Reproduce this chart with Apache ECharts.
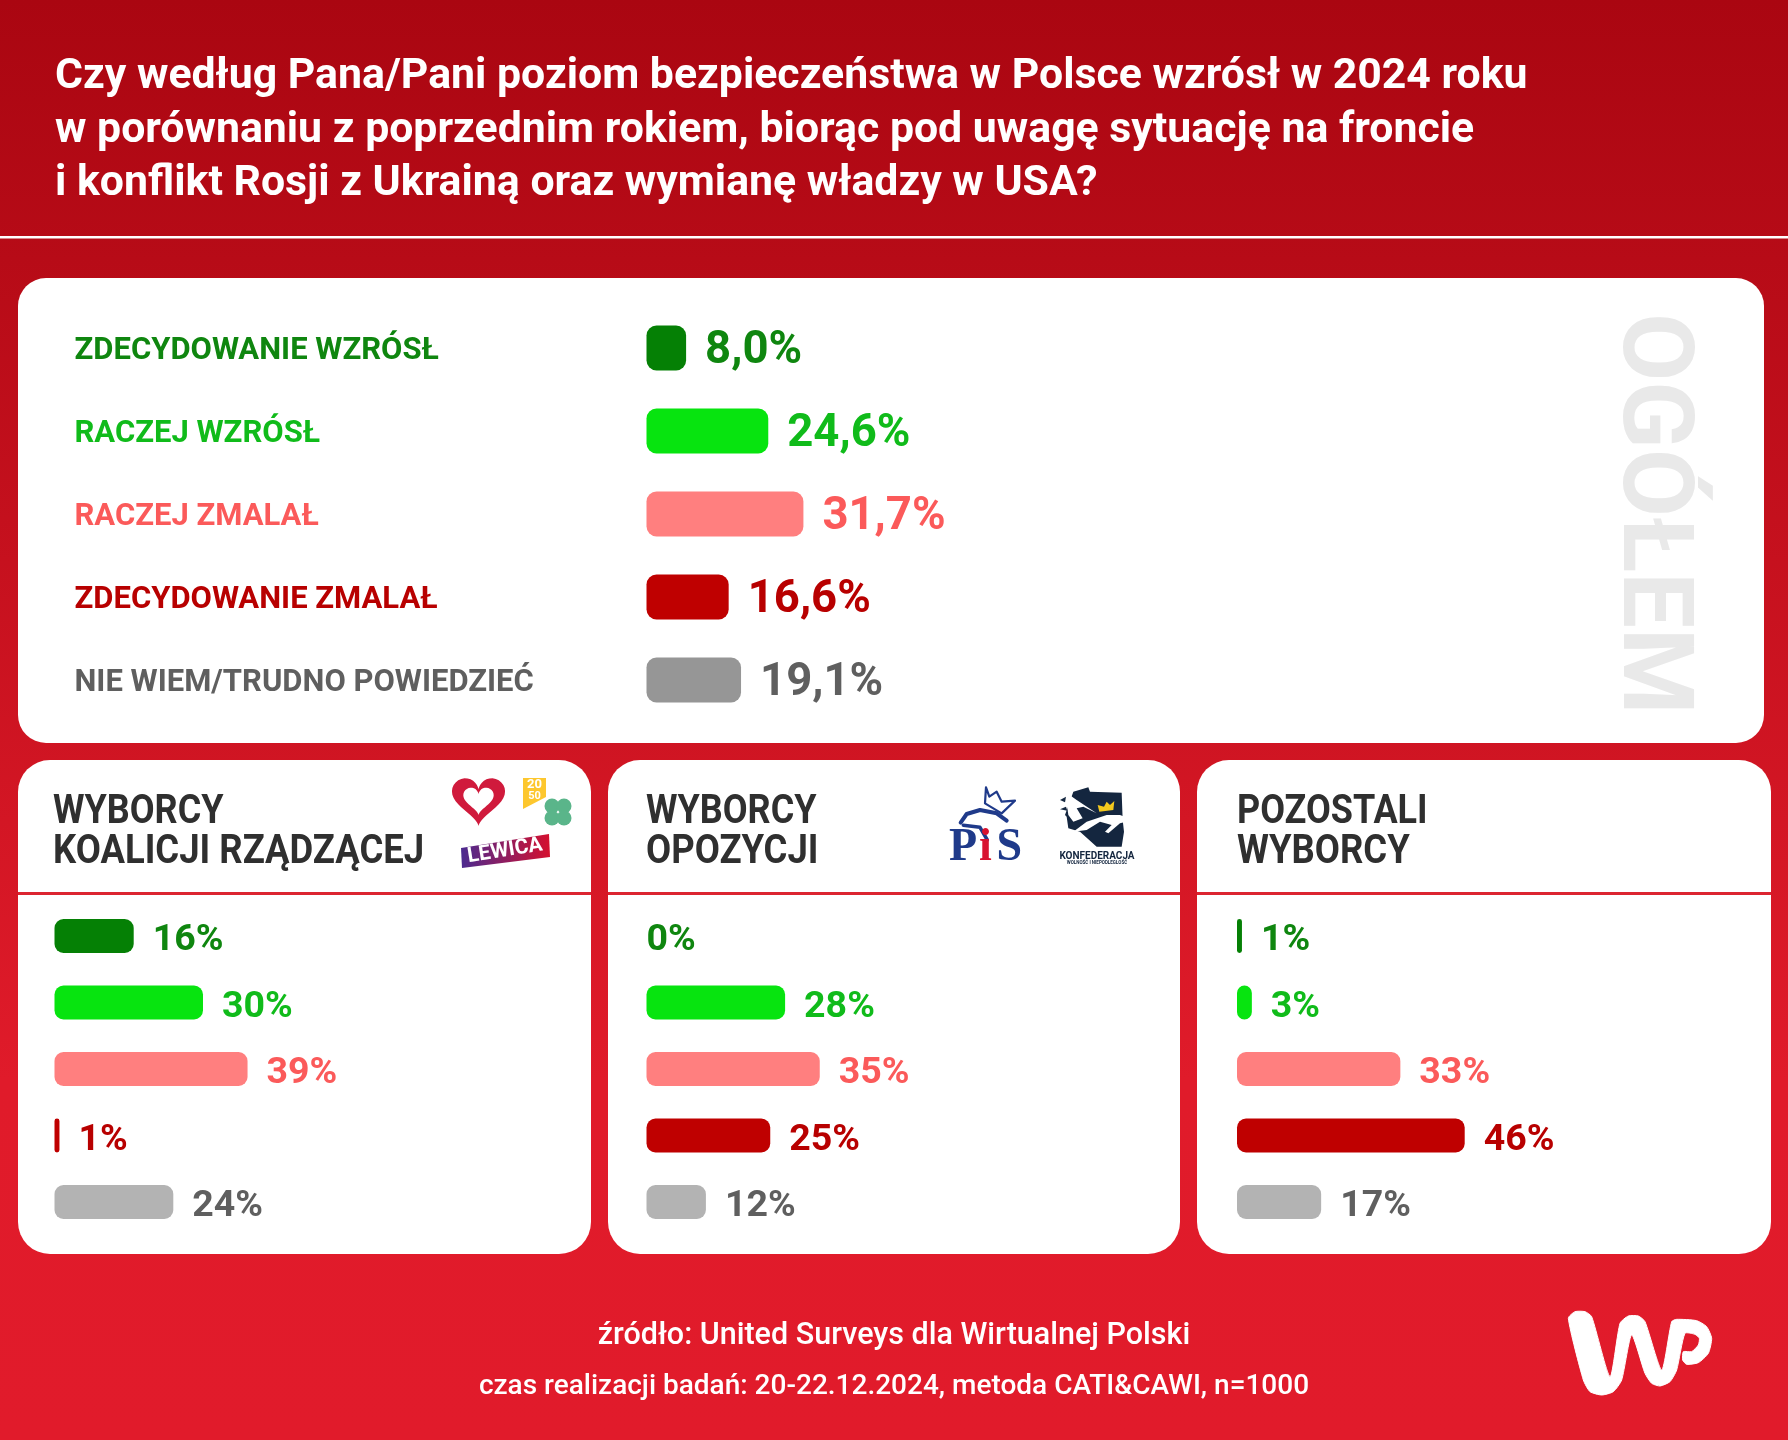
<!DOCTYPE html>
<html>
<head>
<meta charset="utf-8">
<title>Bezpieczenstwo w Polsce</title>
<script src="https://cdn.jsdelivr.net/npm/echarts@6/dist/echarts.min.js"></script>
<style>
  html, body { margin: 0; padding: 0; background: #c91320; }
  #chart { width: 1788px; height: 1440px; }
</style>
</head>
<body>
<div id="chart"></div>
<script>
var categories = ['ZDECYDOWANIE WZRÓSŁ', 'RACZEJ WZRÓSŁ', 'RACZEJ ZMALAŁ', 'ZDECYDOWANIE ZMALAŁ', 'NIE WIEM/TRUDNO POWIEDZIEĆ'];
var totalValues = [8.0, 24.6, 31.7, 16.6, 19.1];
var coalitionValues = [16, 30, 39, 1, 24];
var oppositionValues = [0, 28, 35, 25, 12];
var otherValues = [1, 3, 33, 46, 17];
var panelTitles = ['WYBORCY\nKOALICJI RZĄDZĄCEJ', 'WYBORCY\nOPOZYCJI', 'POZOSTALI\nWYBORCY'];
var heading = [
  'Czy według Pana/Pani poziom bezpieczeństwa w Polsce wzrósł w 2024 roku',
  'w porównaniu z poprzednim rokiem, biorąc pod uwagę sytuację na froncie',
  'i konflikt Rosji z Ukrainą oraz wymianę władzy w USA?'
];
var source = 'źródło: United Surveys dla Wirtualnej Polski';
var method = 'czas realizacji badań: 20-22.12.2024, metoda CATI&CAWI, n=1000';

var barColors = ['#058005', '#07e40f', '#ff7f7f', '#bf0000', '#969696'];
var smallBarColors = ['#058005', '#07e40f', '#ff7f7f', '#bf0000', '#b3b3b3'];
var textColors = ['#0f860f', '#10bb1a', '#fb5a5a', '#b80000', '#5f5f5f'];

var chart = echarts.init(document.getElementById('chart'));

// kazdy panel to osobny grid + seria slupkowa
function barSeries(idx, values, colors, fontSize, radius, barWidth, fmt, labelDy) {
  return {
    type: 'bar',
    xAxisIndex: idx,
    yAxisIndex: idx,
    barWidth: barWidth,
    z: 5,
    silent: true,
    data: values.map(function (v, i) {
      return {
        value: v,
        itemStyle: { color: colors[i], borderRadius: radius },
        label: {
          show: true,
          position: 'right',
          distance: v === 0 ? 0 : 19,
          offset: [0, labelDy],
          color: textColors[i],
          fontFamily: 'Roboto',
          fontWeight: 'bold',
          fontSize: fontSize,
          formatter: fmt
        }
      };
    })
  };
}
function fmtTotal(p) { return p.value.toFixed(1).replace('.', ',') + '%'; }
function fmtInt(p) { return p.value + '%'; }

function xAxisFor(idx) {
  return { gridIndex: idx, type: 'value', min: 0, max: 100, show: false };
}

// style etykiet kategorii, rich zeby zejsc troche w dol
var categoryRich = {};
textColors.forEach(function (c, i) {
  categoryRich['r' + i] = {
    color: c,
    fontFamily: 'Roboto',
    fontWeight: 'bold',
    fontSize: 31,
    padding: [6, 0, 0, 0]
  };
});
function yAxisFor(idx, withLabels) {
  return {
    gridIndex: idx,
    type: 'category',
    inverse: true,
    z: 4,
    data: categories,
    axisLine: { show: false },
    axisTick: { show: false },
    axisLabel: withLabels ? {
      show: true,
      align: 'left',
      margin: 572,
      rich: categoryRich,
      formatter: function (v, i) { return '{r' + i + '|' + v + '}'; }
    } : { show: false }
  };
}

// logo elementy
function heartPoints(cx, cy, s) {
  var pts = [];
  for (var a = 0; a < 60; a++) {
    var t = a / 60 * Math.PI * 2;
    var x = 16 * Math.pow(Math.sin(t), 3);
    var y = 13 * Math.cos(t) - 5 * Math.cos(2 * t) - 2 * Math.cos(3 * t) - Math.cos(4 * t);
    pts.push([cx + x * s, cy - y * s]);
  }
  return pts;
}
function card(x, y, w, h, r) {
  return { type: 'rect', z: 1, shape: { x: x, y: y, width: w, height: h, r: r }, style: { fill: '#fff' } };
}
function label(text, x, y, font, fill, extra) {
  var el = {
    type: 'text', z: 6, x: x, y: y,
    style: { text: text, font: font, fill: fill, textAlign: 'left', textVerticalAlign: 'middle' }
  };
  if (extra) {
    for (var k in extra) {
      if (k === 'textAlign') el.style.textAlign = extra[k];
      else el[k] = extra[k];
    }
  }
  return el;
}
function stroke(points, width, color) {
  return { type: 'polyline', z: 6, shape: { points: points }, style: { stroke: color, lineWidth: width, fill: null, lineCap: 'round', lineJoin: 'round' } };
}
function poly(points, fill) {
  return { type: 'polygon', z: 6, shape: { points: points }, style: { fill: fill } };
}
function fromZoom(ox, oy, pts) {
  return pts.map(function (p) { return [ox + p[0] / 3, oy + p[1] / 3]; });
}

var panelFont = 'bold 40px Roboto';
var elements = [
  { type: 'rect', z: 1, shape: { x: 0, y: 236, width: 1788, height: 2.5 }, style: { fill: '#fff' } },
  card(18, 278, 1746, 465, 28),
  card(18, 760, 573, 494, 32),
  card(608, 760, 572, 494, 32),
  card(1197, 760, 574, 494, 32),
  { type: 'rect', z: 2, shape: { x: 18, y: 892, width: 573, height: 3 }, style: { fill: '#dc2531' } },
  { type: 'rect', z: 2, shape: { x: 608, y: 892, width: 572, height: 3 }, style: { fill: '#dc2531' } },
  { type: 'rect', z: 2, shape: { x: 1197, y: 892, width: 574, height: 3 }, style: { fill: '#dc2531' } },
  label('OGÓŁEM', 1649, 313, 'bold 99px Roboto', '#e9e9e9', { rotation: -Math.PI / 2 })
];

// naglowki paneli
var panelX = [53, 646, 1237];
panelTitles.forEach(function (t, i) {
  var lines = t.split('\n');
  elements.push(label(lines[0], panelX[i], 813, panelFont, '#2f2f2f', { scaleX: 0.9 }));
  elements.push(label(lines[1], panelX[i], 853, panelFont, '#2f2f2f', { scaleX: 0.912 }));
});

// serce KO, 2050, PSL, Lewica
elements.push(poly(heartPoints(478.5, 798, 1.66), '#d01a3c'));
elements.push(poly(heartPoints(478.5, 799, 0.95), '#fff'));
elements.push(poly([[523, 778], [546, 778], [546, 797], [523, 809]], '#fdc72e'));
elements.push(label('20', 534.5, 785, 'bold 13px Roboto', '#fff', { textAlign: 'center' }));
elements.push(label('50', 534.5, 796, 'bold 11px Roboto', '#fff', { textAlign: 'center' }));
[[552, 806], [564, 806], [552, 818], [564, 818]].forEach(function (c) {
  elements.push({ type: 'circle', z: 6, shape: { cx: c[0], cy: c[1], r: 7.5 }, style: { fill: '#5ab58a' } });
});
elements.push({
  type: 'polygon', z: 6,
  shape: { points: [[461, 848], [549, 834], [550, 857], [462, 868]] },
  style: { fill: new echarts.graphic.LinearGradient(0, 0, 1, 0, [{ offset: 0, color: '#4b2a90' }, { offset: 1, color: '#d5102e' }]) }
});
elements.push(label('LEWICA', 505, 851, 'bold 21px Roboto', '#fff', { textAlign: 'center', rotation: 0.16 }));

// PiS
elements.push(stroke(fromZoom(900, 750, [[258, 112], [268, 140], [290, 125], [305, 155], [345, 152], [305, 190], [255, 160], [258, 112]]), 2.2, '#1f3a8a'));
elements.push(stroke(fromZoom(900, 750, [[182, 218], [200, 192], [240, 180], [290, 190], [320, 212]]), 4, '#1f3a8a'));
elements.push(stroke(fromZoom(900, 750, [[190, 226], [240, 232], [262, 270]]), 3.5, '#1f3a8a'));
elements.push(label('P', 949, 848, 'bold 46px "Liberation Serif"', '#1f3a8a'));
elements.push(label('i', 979, 848, 'bold 46px "Liberation Serif"', '#d8132f'));
elements.push(label('S', 996.5, 848, 'bold 46px "Liberation Serif"', '#1f3a8a'));

// Konfederacja
elements.push(poly(fromZoom(900, 750, [[520, 125], [565, 112], [570, 125], [665, 128], [668, 210], [672, 245], [665, 290], [590, 290], [540, 245], [505, 235], [500, 200], [495, 195]]), '#14263f'));
elements.push(poly(fromZoom(900, 750, [[495, 125], [530, 150], [590, 190], [550, 170], [530, 175], [548, 205], [520, 215], [505, 195]]), '#fff'));
elements.push(poly(fromZoom(900, 750, [[520, 245], [560, 215], [620, 195], [660, 195], [700, 210], [660, 220], [625, 250], [615, 245], [635, 225], [600, 215], [560, 240]]), '#fff'));
elements.push(poly(fromZoom(900, 750, [[593, 165], [598, 185], [640, 180], [643, 153], [630, 165], [620, 155], [612, 170]]), '#f2c81e'));
elements.push(poly(fromZoom(900, 750, [[480, 150], [498, 140], [495, 157]]), '#14263f'));
elements.push(poly(fromZoom(900, 750, [[480, 178], [498, 170], [502, 182]]), '#14263f'));
elements.push(label('KONFEDERACJA', 1097, 856, 'bold 10px Roboto', '#14263f', { textAlign: 'center' }));
elements.push(label('WOLNOŚĆ I NIEPODLEGŁOŚĆ', 1097, 862.5, 'bold 4.5px Roboto', '#14263f', { textAlign: 'center' }));

// logo WP
var wpOutline = [[205, 115], [225, 95], [255, 95], [275, 110], [330, 290], [360, 130], [385, 108], [415, 108], [435, 125], [485, 270], [515, 125], [530, 118], [590, 122], [620, 140], [635, 175], [625, 220], [595, 248], [560, 253], [548, 240], [550, 215], [575, 215], [595, 195], [598, 175], [585, 163], [555, 160], [530, 270], [510, 305], [480, 318], [455, 310], [435, 280], [395, 165], [365, 300], [340, 335], [305, 345], [270, 335], [250, 300]];
elements.push({
  type: 'polygon', z: 6,
  shape: { points: fromZoom(1500, 1280, wpOutline), smooth: 0.2 },
  style: { fill: '#fff', stroke: '#fff', lineWidth: 1, lineJoin: 'round' }
});

var option = {
  animation: false,
  backgroundColor: new echarts.graphic.LinearGradient(0, 0, 0, 1, [
    { offset: 0, color: '#aa0611' },
    { offset: 0.75, color: '#e01b2a' },
    { offset: 1, color: '#e11b2b' }
  ]),
  title: [
    {
      text: heading.join('\n'), left: 50, top: 46,
      textStyle: { color: '#fff', fontFamily: 'Roboto', fontWeight: 'bold', fontSize: 42.8, lineHeight: 53.5 }
    },
    {
      text: source, left: 'center', top: 1316,
      textStyle: { color: '#fff', fontFamily: 'Roboto', fontWeight: 500, fontSize: 30.5 }
    },
    {
      text: method, left: 'center', top: 1368,
      textStyle: { color: '#fff', fontFamily: 'Roboto', fontWeight: 500, fontSize: 28 }
    }
  ],
  grid: [
    { left: 646.5, top: 306.5, width: 495, height: 415 },
    { left: 54.5, top: 902.75, width: 495, height: 332.5 },
    { left: 646.5, top: 902.75, width: 495, height: 332.5 },
    { left: 1237, top: 902.75, width: 495, height: 332.5 }
  ],
  xAxis: [xAxisFor(0), xAxisFor(1), xAxisFor(2), xAxisFor(3)],
  yAxis: [yAxisFor(0, true), yAxisFor(1), yAxisFor(2), yAxisFor(3)],
  series: [
    barSeries(0, totalValues, barColors, 45.5, 10, 45, fmtTotal, 4),
    barSeries(1, coalitionValues, smallBarColors, 37.5, 9, 34, fmtInt, 5),
    barSeries(2, oppositionValues, smallBarColors, 37.5, 9, 34, fmtInt, 5),
    barSeries(3, otherValues, smallBarColors, 37.5, 9, 34, fmtInt, 5)
  ],
  graphic: { elements: elements }
};
chart.setOption(option);
</script>
</body>
</html>
